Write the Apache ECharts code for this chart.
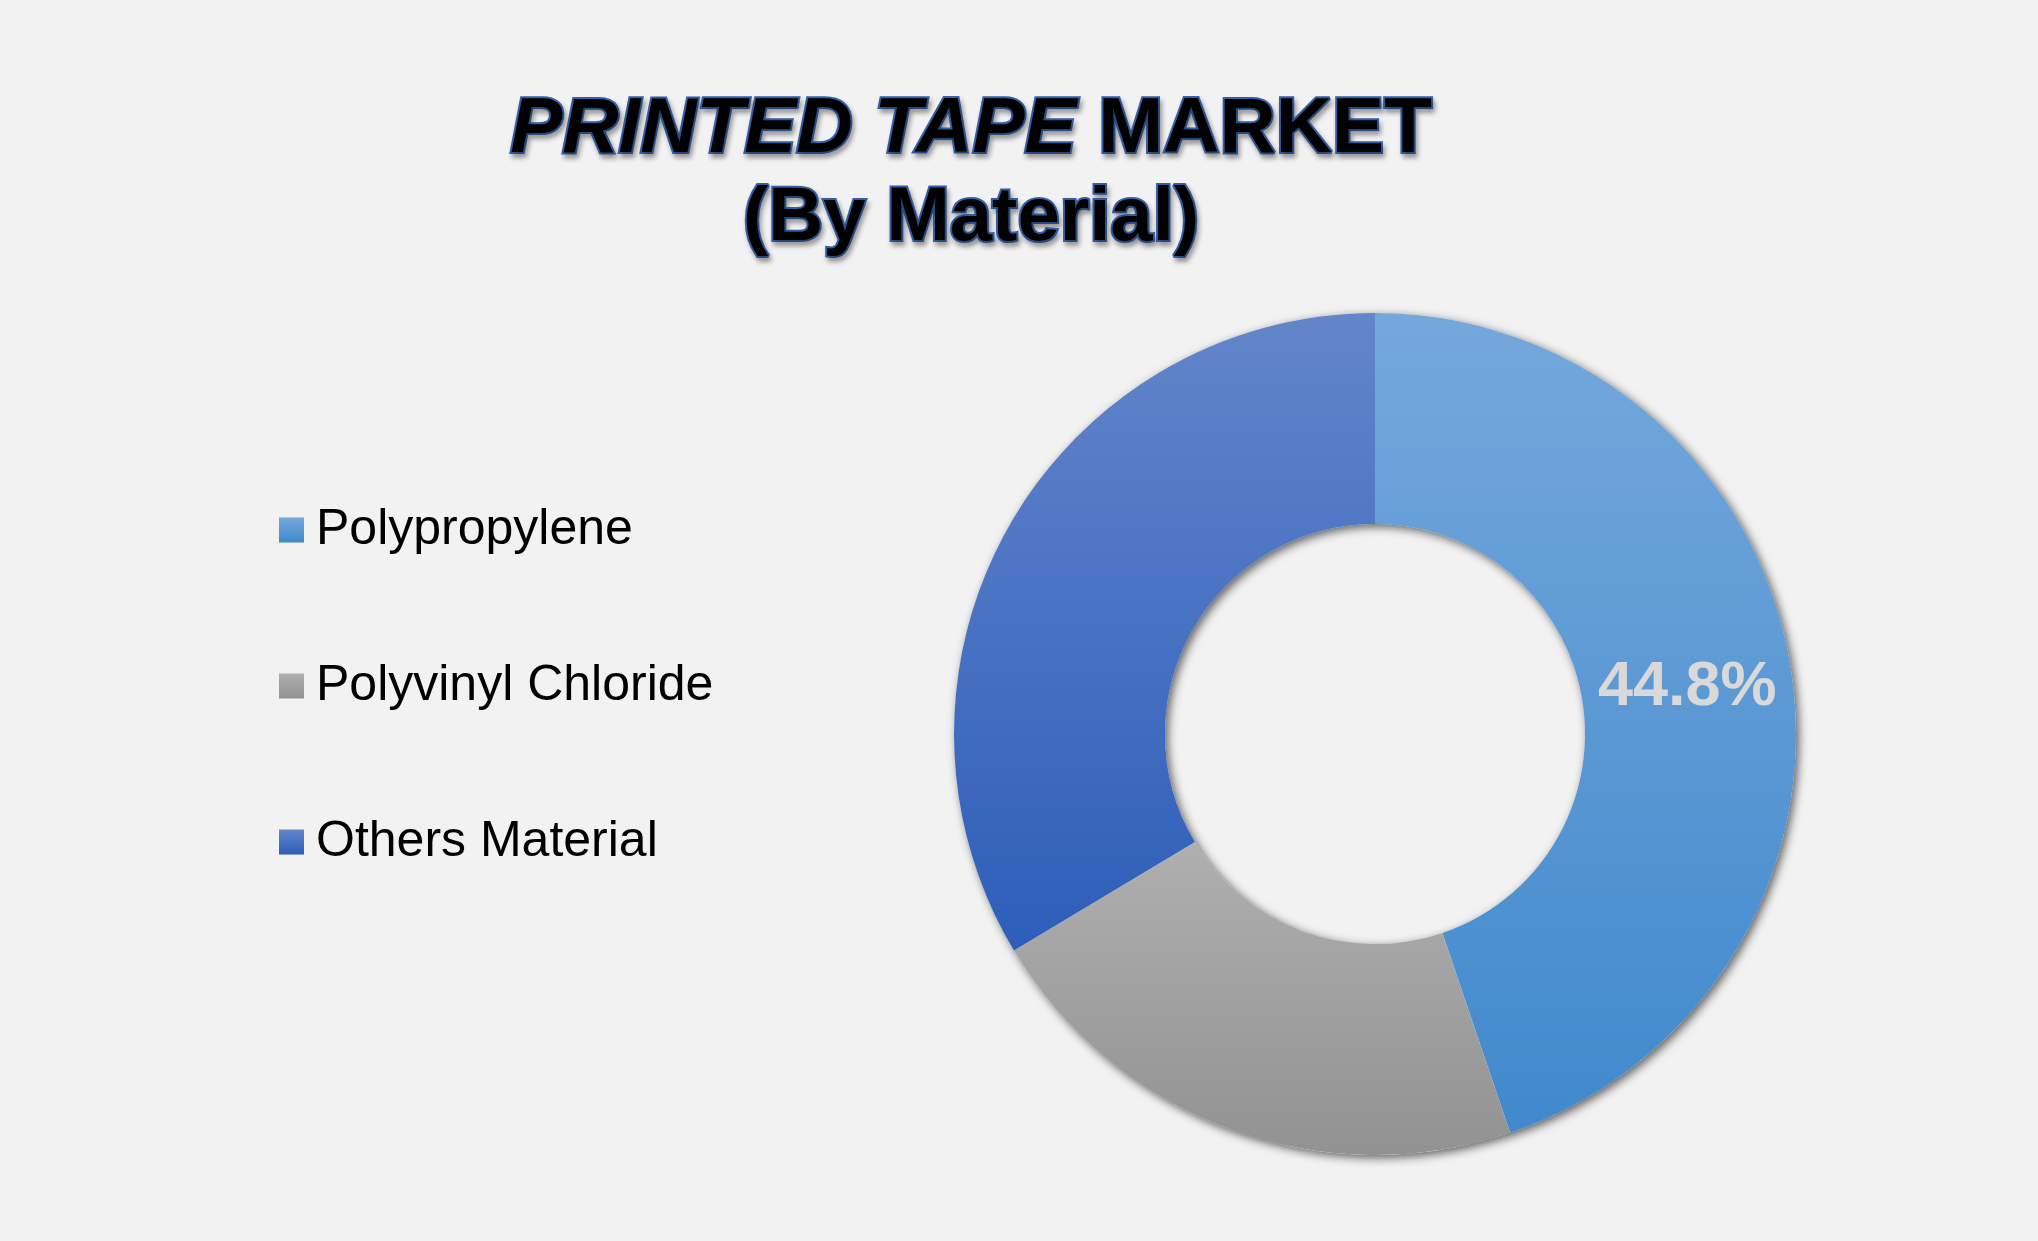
<!DOCTYPE html>
<html>
<head>
<meta charset="utf-8">
<script src="https://cdn.jsdelivr.net/npm/echarts@6/dist/echarts.min.js"></script>
<style>
html,body{margin:0;padding:0;background:#f2f2f2;}
#chart{width:2038px;height:1241px;}
</style>
</head>
<body>
<div id="chart"></div>
<script>
const categories = ['Polypropylene', 'Polyvinyl Chloride', 'Others Material'];
const shares = [44.8, 21.6, 33.6];
const labelShown = [true, false, false];
const titleLine1Italic = 'PRINTED TAPE';
const titleLine1Plain = 'MARKET';
const titleLine2 = '(By Material)';

const gradients = [
  ['#74a8dc', '#4189cc'],
  ['#afafaf', '#929292'],
  ['#6385ca', '#2d5eb9']
];

function grad(c) {
  return new echarts.graphic.LinearGradient(0, 0, 0, 1, [
    { offset: 0, color: c[0] },
    { offset: 1, color: c[1] }
  ]);
}

const FONT = "'Liberation Sans', Arial, sans-serif";
const titleStroke = {
  color: '#000',
  textBorderColor: '#3260a8',
  textBorderWidth: 4,
  textShadowColor: 'rgba(0,0,0,0.3)',
  textShadowBlur: 5,
  textShadowOffsetX: 2,
  textShadowOffsetY: 4,
  fontFamily: FONT,
  fontWeight: 'bold'
};

const chart = echarts.init(document.getElementById('chart'), null, { renderer: 'canvas' });
chart.setOption({
  backgroundColor: '#f2f2f2',
  animation: false,
  title: [
    {
      text: '{i|' + titleLine1Italic + '} {b|' + titleLine1Plain + '}',
      left: 971,
      top: 90,
      textAlign: 'center',
      padding: 0,
      textStyle: {
        ...titleStroke,
        fontSize: 78,
        lineHeight: 80,
        rich: {
          i: { ...titleStroke, fontSize: 78, lineHeight: 80, fontStyle: 'italic' },
          b: { ...titleStroke, fontSize: 78, lineHeight: 80 }
        }
      }
    },
    {
      text: titleLine2,
      left: 971,
      top: 179,
      textAlign: 'center',
      padding: 0,
      textStyle: { ...titleStroke, fontSize: 76, lineHeight: 80 }
    }
  ],
  legend: {
    data: categories,
    orient: 'vertical',
    left: 279,
    top: 505,
    padding: 0,
    itemWidth: 25,
    itemHeight: 25,
    itemGap: 106,
    icon: 'rect',
    selectedMode: false,
    textStyle: {
      fontFamily: FONT,
      fontSize: 50,
      lineHeight: 50,
      color: '#000',
      padding: [0, 0, 0, 7]
    }
  },
  series: [
    {
      name: 'ring-shadow',
      type: 'pie',
      silent: true,
      center: [1375, 734],
      radius: [210, 421],
      label: { show: false },
      labelLine: { show: false },
      itemStyle: {
        color: '#f2f2f2',
        shadowColor: 'rgba(0,0,0,0.6)',
        shadowBlur: 10,
        shadowOffsetX: 3,
        shadowOffsetY: 3
      },
      data: [{ name: '_ring', value: 1 }],
      z: 1
    },
    {
      name: 'Material',
      type: 'pie',
      center: [1375, 734],
      radius: [210, 421],
      startAngle: 90,
      clockwise: true,
      avoidLabelOverlap: false,
      labelLine: { show: false },
      data: categories.map((name, i) => ({
        name: name,
        value: shares[i],
        itemStyle: { color: grad(gradients[i]) },
        label: {
          show: labelShown[i],
          position: 'inside',
          offset: [-2, 5],
          formatter: (p) => p.value.toFixed(1) + '%',
          color: '#d9d9d9',
          fontFamily: FONT,
          fontWeight: 'bold',
          fontSize: 63
        }
      })),
      z: 2
    }
  ]
});
</script>
</body>
</html>
